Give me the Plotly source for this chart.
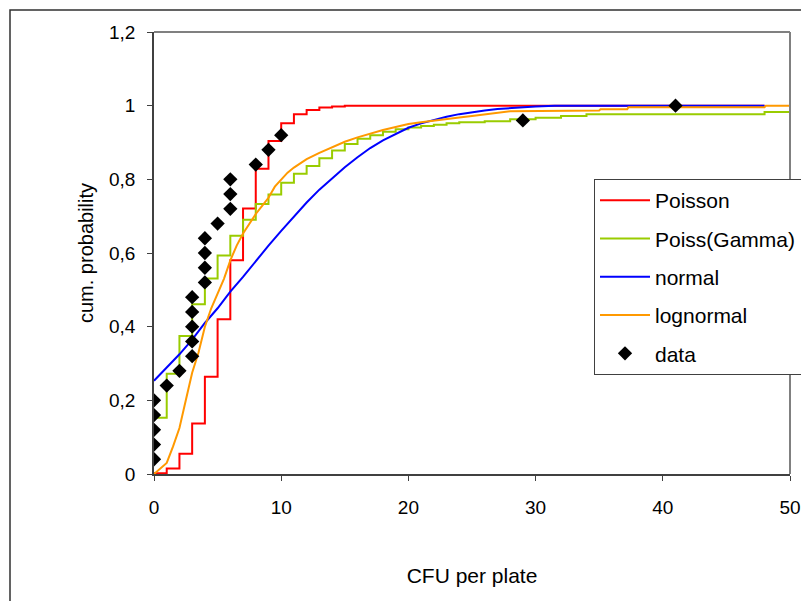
import plotly.graph_objects as go

# ---- data ----
pois_x = [0, 1, 2, 3, 4, 5, 6, 7, 8, 9, 10, 11, 12, 13, 14, 15, 48]
pois_y = [0.002, 0.015, 0.055, 0.137, 0.264, 0.42, 0.58, 0.721, 0.829, 0.904, 0.952,
          0.977, 0.988, 0.995, 0.998, 1.0, 1.0]

pg_x = [0, 1, 2, 3, 4, 5, 6, 7, 8, 9, 10, 11, 12, 13, 14, 15, 16, 17, 18, 19, 20,
        21, 22, 23, 24, 26, 28, 30, 32, 34, 48, 50]
pg_y = [0.153, 0.272, 0.375, 0.461, 0.531, 0.593, 0.647, 0.690, 0.733, 0.759, 0.791,
        0.815, 0.836, 0.857, 0.878, 0.896, 0.910, 0.920, 0.929, 0.936, 0.941, 0.945,
        0.948, 0.952, 0.955, 0.958, 0.963, 0.967, 0.972, 0.977, 0.983, 0.983]

norm_x = [0, 1, 2, 3, 4, 5, 6, 7, 8, 9, 10, 11, 12, 13, 14, 15, 16, 17, 18, 19, 20,
          21, 22, 23, 24, 25, 26, 27, 28, 29, 30, 31.5, 48]
norm_y = [0.253, 0.29, 0.325, 0.365, 0.41, 0.45, 0.495, 0.535, 0.578, 0.62, 0.66,
          0.70, 0.737, 0.772, 0.803, 0.833, 0.86, 0.885, 0.906, 0.924, 0.94, 0.952,
          0.962, 0.97, 0.977, 0.983, 0.987, 0.991, 0.994, 0.996, 0.998, 1.0, 1.0]

logn_x = [0, 1, 1.5, 2, 2.5, 3, 3.5, 4, 4.5, 5, 5.5, 6, 6.5, 7, 7.5, 8, 8.5, 9, 9.5,
          10, 10.5, 11, 12, 13, 14, 15, 16, 17, 18, 19, 20, 21, 22, 23, 24, 25, 26,
          27, 28, 35, 35.1, 37.2, 37.3, 48, 48.1, 50]
logn_y = [0, 0.03, 0.075, 0.125, 0.2, 0.275, 0.33, 0.40, 0.45, 0.49, 0.53, 0.58, 0.62,
          0.653, 0.68, 0.706, 0.728, 0.75, 0.78, 0.80, 0.818, 0.832, 0.855, 0.872,
          0.888, 0.902, 0.914, 0.925, 0.934, 0.942, 0.95, 0.955, 0.96, 0.964, 0.968,
          0.972, 0.976, 0.981, 0.985, 0.987, 0.99, 0.99, 0.996, 0.996, 1.0, 1.0]

data_x = [0, 0, 0, 0, 0, 1, 2, 3, 3, 3, 3, 3, 4, 4, 4, 4, 5, 6, 6, 6, 8, 9, 10, 29, 41]
data_y = [0.04, 0.08, 0.12, 0.16, 0.20, 0.24, 0.28, 0.32, 0.36, 0.40, 0.44, 0.48,
          0.52, 0.56, 0.60, 0.64, 0.68, 0.72, 0.76, 0.80, 0.84, 0.88, 0.92, 0.96, 1.0]

x_ticks = [0, 10, 20, 30, 40, 50]
y_ticks = [0, 0.2, 0.4, 0.6, 0.8, 1.0, 1.2]

FONT = "Liberation Sans, Arial, sans-serif"
FS_TICK = 19
FS = 20
FS_LEG = 21

fig = go.Figure()
fig.add_trace(go.Scatter(x=pois_x, y=pois_y, mode="lines", name="Poisson",
                         line=dict(color="#FF0000", width=2, shape="hv"),
                         legendgroup="a"))
fig.add_trace(go.Scatter(x=pg_x, y=pg_y, mode="lines", name="Poiss(Gamma)",
                         line=dict(color="#99CC00", width=2, shape="hv"),
                         legendgroup="b"))
fig.add_trace(go.Scatter(x=norm_x, y=norm_y, mode="lines", name="normal",
                         line=dict(color="#0000FF", width=2),
                         legendgroup="c"))
fig.add_trace(go.Scatter(x=logn_x, y=logn_y, mode="lines", name="lognormal",
                         line=dict(color="#FF9900", width=2),
                         legendgroup="d"))
fig.add_trace(go.Scatter(x=data_x, y=data_y, mode="markers", name="data",
                         marker=dict(symbol="diamond", size=11, color="black"),
                         legendgroup="e"))

# plot-area frame (top/right gray)
fig.add_shape(type="line", xref="paper", yref="paper", x0=0, x1=1, y0=1, y1=1,
              line=dict(color="#808080", width=2))
fig.add_shape(type="line", xref="paper", yref="paper", x0=1, x1=1, y0=0, y1=1,
              line=dict(color="#808080", width=2))
# outer chart border
fig.add_shape(type="rect", xref="paper", yref="paper",
              x0=(10 - 154) / 636, x1=(830 - 154) / 636,
              y0=(474 - 640) / 442, y1=(474 - 10) / 442,
              line=dict(color="#303030", width=1.5), layer="below")

fig.update_layout(
    width=801, height=601,
    margin=dict(l=154, r=11, t=32, b=127, autoexpand=False),
    paper_bgcolor="white", plot_bgcolor="white",
    separators=", ",
    font=dict(family=FONT, size=FS_TICK, color="black"),
    showlegend=True,
    legend=dict(x=(594 - 154) / 636, y=(474 - 179) / 442, xanchor="left", yanchor="top",
                bordercolor="#404040", borderwidth=1, bgcolor="white",
                font=dict(family=FONT, size=FS_LEG, color="black"),
                traceorder="grouped", tracegroupgap=8, itemwidth=50),
    xaxis=dict(range=[0, 50], tickvals=x_ticks, ticks="outside", ticklen=5,
               tickcolor="#404040", showline=True, linecolor="#404040", linewidth=1.5,
               showgrid=False, zeroline=False, ticklabelstandoff=10,
               tickfont=dict(family=FONT, size=FS_TICK),
               title=dict(text="CFU per plate", standoff=52,
                          font=dict(family=FONT, size=FS_LEG))),
    yaxis=dict(range=[0, 1.2], tickvals=y_ticks, ticks="outside", ticklen=5,
               tickcolor="#404040", showline=True, linecolor="#404040", linewidth=1.5,
               showgrid=False, zeroline=False, ticklabelstandoff=8,
               tickfont=dict(family=FONT, size=FS_TICK),
               title=dict(text="cum. probability", standoff=10,
                          font=dict(family=FONT, size=FS))),
)

fig.write_html("out.html")
